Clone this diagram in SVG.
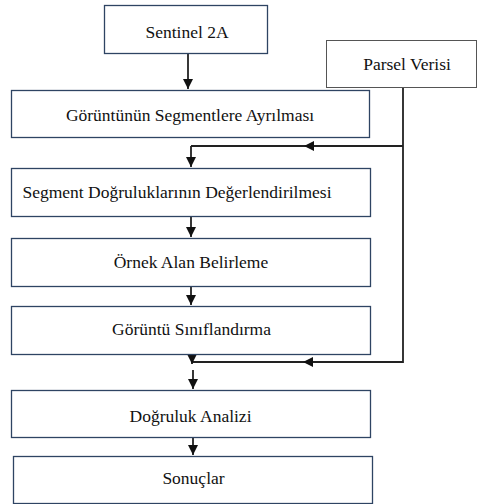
<svg xmlns="http://www.w3.org/2000/svg" width="479" height="504" viewBox="0 0 479 504">
<style>
.box{fill:#fff;stroke:#2e4463;stroke-width:1.3}
.box2{fill:#fff;stroke:#555;stroke-width:1}
text{font-family:"Liberation Serif","Times New Roman",serif;font-size:17.5px;fill:#111;text-anchor:middle}
.c{fill:none;stroke:#222;stroke-width:1.8}
</style>
<defs>
<marker id="a" viewBox="0 0 10 10" refX="10" refY="5" markerWidth="10" markerHeight="10" orient="auto" markerUnits="userSpaceOnUse">
<path d="M0,0 L10,5 L0,10 z" fill="#111"/>
</marker>
</defs>
<g id="connectors">
<line class="c" x1="188" y1="53" x2="188" y2="89" marker-end="url(#a)"/>
<polyline class="c" points="403,87 403,362 193,362"/>
<line class="c" x1="403" y1="146" x2="191" y2="146"/>
<path d="M304,146 l10,-5 l0,10 z" fill="#111"/>
<line class="c" x1="191" y1="146" x2="191" y2="167" marker-end="url(#a)"/>
<path d="M303,362 l10,-5 l0,10 z" fill="#111"/>
<line class="c" x1="191" y1="216" x2="191" y2="237" marker-end="url(#a)"/>
<line class="c" x1="191" y1="287" x2="191" y2="305" marker-end="url(#a)"/>
<line class="c" x1="192" y1="354" x2="192" y2="364" marker-end="url(#a)"/>
<line class="c" x1="193" y1="370" x2="193" y2="389" marker-end="url(#a)"/>
<line class="c" x1="193" y1="438" x2="193" y2="455" marker-end="url(#a)"/>
</g>
<g id="n1"><rect class="box" x="104.5" y="5.5" width="163" height="48"/><text x="187" y="37.5">Sentinel 2A</text></g>
<g id="n2"><rect class="box2" x="326.5" y="40.5" width="150" height="47"/><text x="407" y="70">Parsel Verisi</text></g>
<g id="n3"><rect class="box" x="11.5" y="90.5" width="358" height="47"/><text x="190" y="120.5">Görüntünün Segmentlere Ayrılması</text></g>
<g id="n4"><rect class="box" x="11.5" y="168.5" width="359" height="48"/><text x="177" y="198">Segment Doğruluklarının Değerlendirilmesi</text></g>
<g id="n5"><rect class="box" x="11.5" y="238.5" width="359" height="48"/><text x="191" y="268">Örnek Alan Belirleme</text></g>
<g id="n6"><rect class="box" x="11.5" y="306.5" width="359" height="48"/><text x="191.5" y="335">Görüntü Sınıflandırma</text></g>
<g id="n7"><rect class="box" x="11.5" y="390.5" width="359" height="47"/><text x="190.5" y="421.5">Doğruluk Analizi</text></g>
<g id="n8"><rect class="box" x="13.5" y="456.5" width="359" height="47"/><text x="193.5" y="484">Sonuçlar</text></g>
</svg>
